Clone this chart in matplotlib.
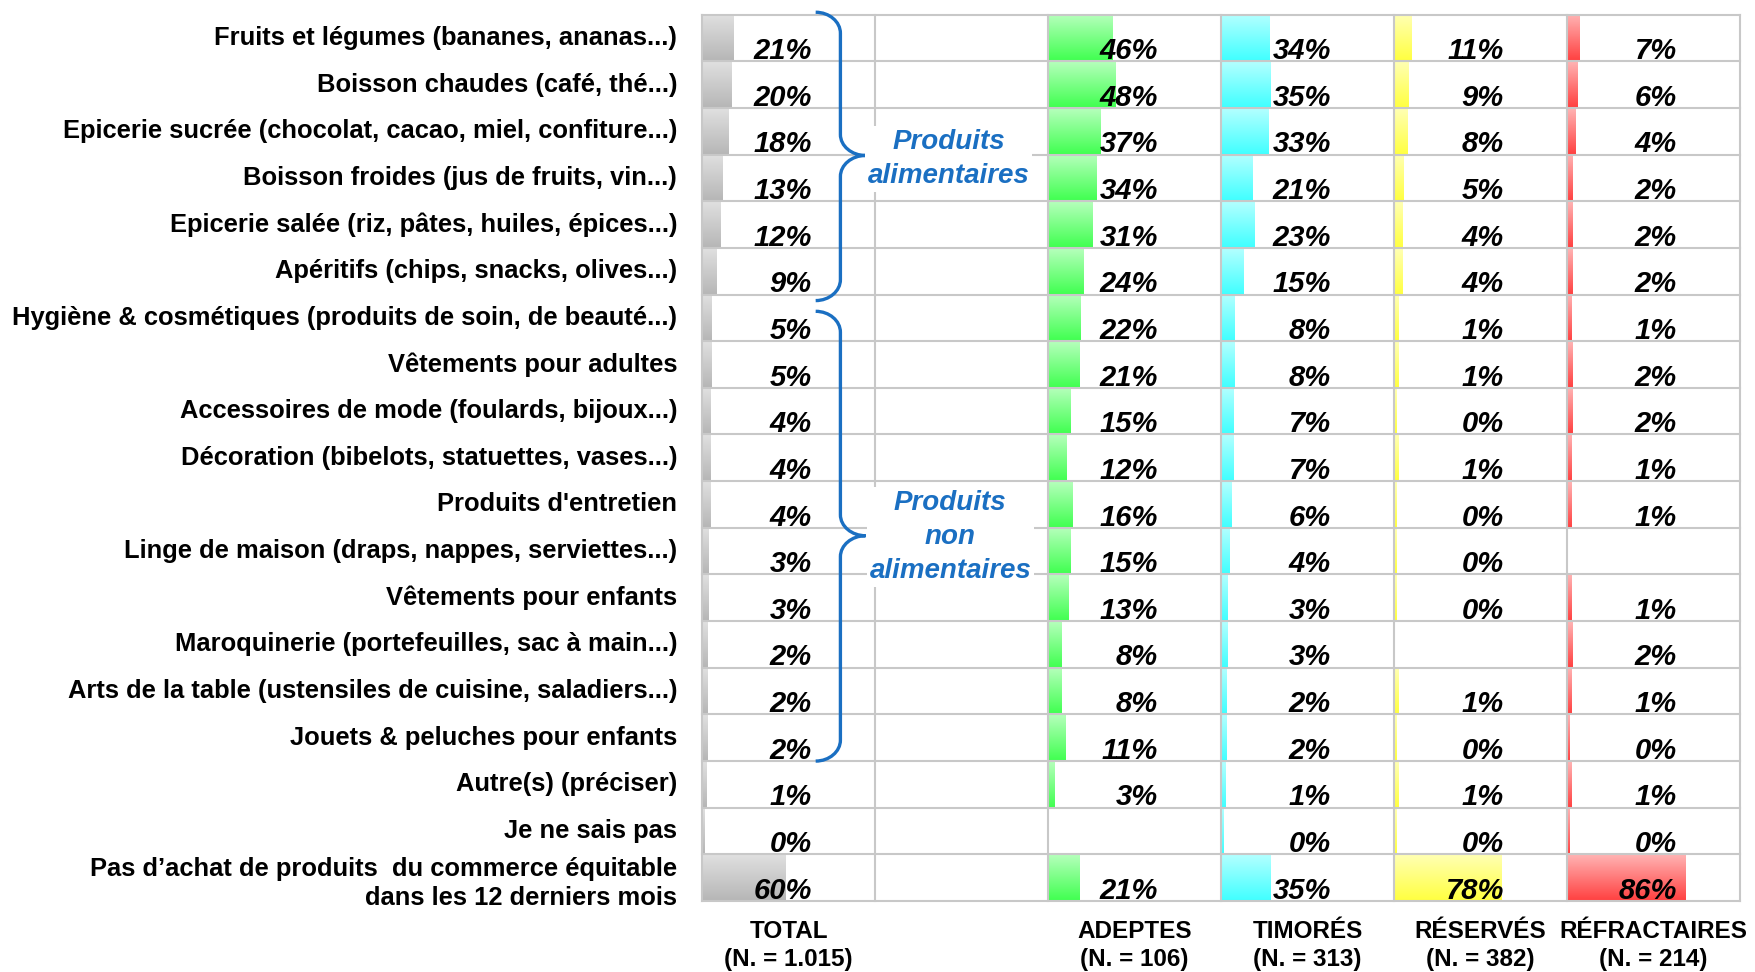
import numpy as np
import matplotlib
matplotlib.use("Agg")
import matplotlib.pyplot as plt
from matplotlib.path import Path
from matplotlib.patches import PathPatch
from matplotlib.colors import LinearSegmentedColormap

categories = [
    "Fruits et légumes (bananes, ananas...)",
    "Boisson chaudes (café, thé...)",
    "Epicerie sucrée (chocolat, cacao, miel, confiture...)",
    "Boisson froides (jus de fruits, vin...)",
    "Epicerie salée (riz, pâtes, huiles, épices...)",
    "Apéritifs (chips, snacks, olives...)",
    "Hygiène & cosmétiques (produits de soin, de beauté...)",
    "Vêtements pour adultes",
    "Accessoires de mode (foulards, bijoux...)",
    "Décoration (bibelots, statuettes, vases...)",
    "Produits d'entretien",
    "Linge de maison (draps, nappes, serviettes...)",
    "Vêtements pour enfants",
    "Maroquinerie (portefeuilles, sac à main...)",
    "Arts de la table (ustensiles de cuisine, saladiers...)",
    "Jouets & peluches pour enfants",
    "Autre(s) (préciser)",
    "Je ne sais pas",
    "Pas d\u2019achat de produits  du commerce équitable\ndans les 12 derniers mois",
]

total = [21, 20, 18, 13, 12, 9, 5, 5, 4, 4, 4, 3, 3, 2, 2, 2, 1, 0, 60]
adeptes = [46, 48, 37, 34, 31, 24, 22, 21, 15, 12, 16, 15, 13, 8, 8, 11, 3, None, 21]
timores = [34, 35, 33, 21, 23, 15, 8, 8, 7, 7, 6, 4, 3, 3, 2, 2, 1, 0, 35]
reserves = [11, 9, 8, 5, 4, 4, 1, 1, 0, 1, 0, 0, 0, None, 1, 0, 1, 0, 78]
refractaires = [7, 6, 4, 2, 2, 2, 1, 2, 2, 1, 1, None, 1, 2, 1, 0, 1, 0, 86]

headers = ["TOTAL\n(N. = 1.015)", "", "ADEPTES\n(N. = 106)", "TIMORÉS\n(N. = 313)",
           "RÉSERVÉS\n(N. = 382)", "RÉFRACTAIRES\n(N. = 214)"]

groups = ["Produits\nalimentaires", "Produits\nnon\nalimentaires"]

# column index -> (values, light colour, strong colour)
series = [
    (0, total, "#e0e0e0", "#b6b6b6"),
    (2, adeptes, "#b6ffbc", "#40ff50"),
    (3, timores, "#b4ffff", "#40ffff"),
    (4, reserves, "#ffffb4", "#ffff40"),
    (5, refractaires, "#ffb4b4", "#ff4040"),
]

FONT = ["Liberation Sans", "DejaVu Sans"]
BLUE = "#1a6fc2"
GRID = "#c8c8c8"

n = len(categories)
ncol = 6

fig = plt.figure(figsize=(17.55, 9.72), dpi=100)
ax = fig.add_axes([0.4, 0.073, 0.5915, 0.912])
ax.axis("off")

grad = np.linspace(0, 1, 64).reshape(-1, 1)
for col, vals, c0, c1 in series:
    cmap = LinearSegmentedColormap.from_list("g", [c0, c1])
    for i, v in enumerate(vals):
        if v is None:
            continue
        w = (v + 2) / 100 * 0.78
        ax.imshow(grad, cmap=cmap, extent=[col, col + w, i + 1, i], origin="upper",
                  aspect="auto", interpolation="bilinear", zorder=1)
        ax.text(col + 0.635, i + 0.78, f"{v}%", ha="right", va="center",
                fontsize=21, fontweight="bold", fontstyle="italic", family=FONT, zorder=3)

ax.set_xlim(0, ncol)
ax.set_ylim(n, 0)

for i in range(n + 1):
    ax.plot([0, ncol], [i, i], color=GRID, lw=1.5, zorder=2, clip_on=False)
for j in range(ncol + 1):
    ax.plot([j, j], [0, n], color=GRID, lw=1.5, zorder=2, clip_on=False)

for i, lab in enumerate(categories):
    y = i + 0.5 if "\n" not in lab else i + 0.62
    ax.text(-0.144, y, lab, ha="right", va="center", fontsize=18.4, fontweight="bold",
            family=FONT, linespacing=1.25, clip_on=False)

for j, h in enumerate(headers):
    if h:
        ax.text(j + 0.5, n + 0.95, h, ha="center", va="center", fontsize=17.5,
                fontweight="bold", family=FONT, linespacing=1.3, clip_on=False)


def brace(y0, y1, ym, xl=0.657, xm=0.80, xr=0.945, r=0.45):
    k = 0.55
    verts = [
        (xl, y0),
        (xl + k * (xm - xl), y0), (xm, y0 + (1 - k) * r), (xm, y0 + r),
        (xm, ym - r),
        (xm, ym - (1 - k) * r), (xr - k * (xr - xm), ym), (xr, ym),
        (xr - k * (xr - xm), ym), (xm, ym + (1 - k) * r), (xm, ym + r),
        (xm, y1 - r),
        (xm, y1 - (1 - k) * r), (xl + k * (xm - xl), y1), (xl, y1),
    ]
    codes = [Path.MOVETO] + [Path.CURVE4] * 3 + [Path.LINETO] + [Path.CURVE4] * 6 + \
            [Path.LINETO] + [Path.CURVE4] * 3
    ax.add_patch(PathPatch(Path(verts, codes), fill=False, edgecolor=BLUE, lw=2.4,
                           capstyle="butt", zorder=4, clip_on=False))


brace(-0.05, 6.13, 3.02)
brace(6.36, 16.0, 11.17)

ax.text(1.424, 3.1, groups[0], ha="center", va="center", color=BLUE, fontsize=20,
        fontweight="bold", fontstyle="italic", family=FONT, linespacing=1.4, zorder=5,
        bbox=dict(facecolor="white", edgecolor="none", pad=2))
ax.text(1.435, 11.2, groups[1], ha="center", va="center", color=BLUE, fontsize=20,
        fontweight="bold", fontstyle="italic", family=FONT, linespacing=1.4, zorder=5,
        bbox=dict(facecolor="white", edgecolor="none", pad=2))

fig.savefig("out.png", dpi=100, facecolor="white")
